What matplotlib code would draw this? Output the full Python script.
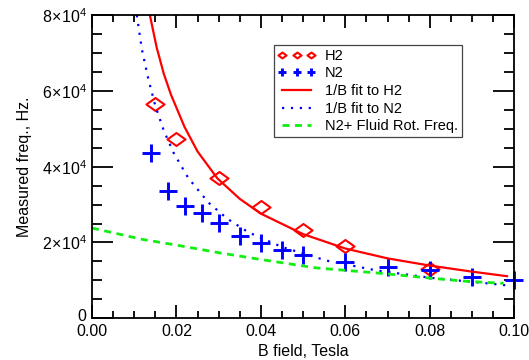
import numpy as np
import matplotlib
matplotlib.use("Agg")
import matplotlib.pyplot as plt
from matplotlib.path import Path
from matplotlib.transforms import ScaledTranslation

plt.rcParams['font.family'] = ['Liberation Sans', 'DejaVu Sans']
plt.rcParams['mathtext.fontset'] = 'custom'
plt.rcParams['mathtext.rm'] = 'Liberation Sans'
plt.rcParams['mathtext.it'] = 'Liberation Sans'

# measured points
b_h2 = [0.015, 0.020, 0.030, 0.040, 0.050, 0.060, 0.080]
f_h2 = [56500, 47300, 37000, 29300, 23300, 19100, 12900]

b_n2 = [0.014, 0.018, 0.022, 0.026, 0.030, 0.035, 0.040, 0.045, 0.050, 0.060, 0.070, 0.080, 0.090, 0.100]
f_n2 = [43500, 33600, 29600, 27700, 25200, 21700, 19800, 18000, 16700, 14900, 13600, 12600, 11000, 10100]

# 1/B fit curves
b_fit_h2 = [0.0137, 0.0153, 0.0170, 0.0187, 0.0219, 0.0250, 0.0297, 0.0350, 0.0400,
            0.0500, 0.0600, 0.0700, 0.0800, 0.0900, 0.0983]
f_fit_h2 = [80000, 71500, 64500, 59000, 50500, 44000, 36900, 31500, 27600,
            22200, 18400, 15800, 13900, 12300, 11100]

b_fit_n2 = [0.0106, 0.0118, 0.0133, 0.0150, 0.0170, 0.0193, 0.0228, 0.0276, 0.0320,
            0.0370, 0.0450, 0.0556, 0.0675, 0.0800, 0.0920, 0.0980]
f_fit_n2 = [80000, 71000, 63300, 56000, 49500, 43700, 37000, 30500, 26300,
            22700, 18800, 15200, 12600, 10700, 9400, 8700]

# N2+ fluid rotation frequency
b_rot = [0.000, 0.006, 0.012, 0.020, 0.024, 0.030, 0.040, 0.053, 0.069, 0.080, 0.088, 0.0975]
f_rot = [23800, 22300, 20800, 19300, 18500, 17300, 15500, 13300, 11800, 10600, 9800, 9200]

yticks = [0, 20000, 40000, 60000, 80000]
yticklabels = ['0', r'$2\!\times\!10^4$', r'$4\!\times\!10^4$', r'$6\!\times\!10^4$', r'$8\!\times\!10^4$']
xticks = [0.00, 0.02, 0.04, 0.06, 0.08, 0.10]

# flattened diamond like the original
diamond = Path([(-1, 0), (0, 0.72), (1, 0), (0, -0.72), (-1, 0)],
               [Path.MOVETO, Path.LINETO, Path.LINETO, Path.LINETO, Path.CLOSEPOLY])

fig = plt.figure(figsize=(5.29, 3.60), dpi=100)
ax = fig.add_axes([0.174, 0.116, 0.798, 0.842])

ax.plot(b_h2, f_h2, linestyle='none', marker=diamond, markersize=13,
        markerfacecolor='none', markeredgecolor='red', markeredgewidth=1.5,
        clip_on=False, label='H2')
ax.plot(b_n2, f_n2, linestyle='none', marker='+', markersize=13,
        color='blue', markeredgewidth=2.1, clip_on=False, label='N2')
ax.plot(b_fit_h2, f_fit_h2, color='red', lw=1.6, label='1/B fit to H2')
ax.plot(b_fit_n2, f_fit_n2, color='blue', lw=1.6, linestyle=(0, (1, 3)), label='1/B fit to N2')
ax.plot(b_rot, f_rot, color='#11ee11', lw=2, linestyle=(0, (2.5, 2)), label='N2+ Fluid Rot. Freq.')

ax.set_xlim(0, 0.1)
ax.set_ylim(0, 80000)
ax.set_xticks(xticks)
ax.set_xticklabels(['%.2f' % v for v in xticks])
ax.set_xticks(np.arange(0, 0.1001, 0.005), minor=True)
ax.set_yticks(yticks)
ax.set_yticklabels(yticklabels)
ax.set_yticks(np.arange(0, 80001, 5000), minor=True)

ax.tick_params(axis='both', which='both', direction='in', top=True, right=True,
               labelsize=11.5, width=1.3, colors='black')
ax.tick_params(axis='x', which='major', length=9.5, pad=4)
ax.tick_params(axis='x', which='minor', length=5)
ax.tick_params(axis='y', which='major', length=15, pad=4)
ax.tick_params(axis='y', which='minor', length=7)
for s in ax.spines.values():
    s.set_linewidth(1.3)

# nudge the "0" on the y axis up a little so it sits above "0.00"
zero_lbl = ax.get_yticklabels()[0]
zero_lbl.set_transform(zero_lbl.get_transform() + ScaledTranslation(0, 2.5 / 72, fig.dpi_scale_trans))

ax.set_xlabel('B field, Tesla', fontsize=11.5, labelpad=4)
ax.set_ylabel('Measured freq., Hz.', fontsize=11.5, labelpad=7)

leg = ax.legend(loc='upper left', bbox_to_anchor=(0.431, 0.901), borderaxespad=0,
                numpoints=3, markerscale=0.45, fontsize=10.5, handlelength=2.6,
                handletextpad=0.65, labelspacing=0.25, borderpad=0.25, fancybox=False,
                framealpha=1, edgecolor='#444444')
leg.get_frame().set_linewidth(0.9)

fig.savefig('out.png', dpi=100)
